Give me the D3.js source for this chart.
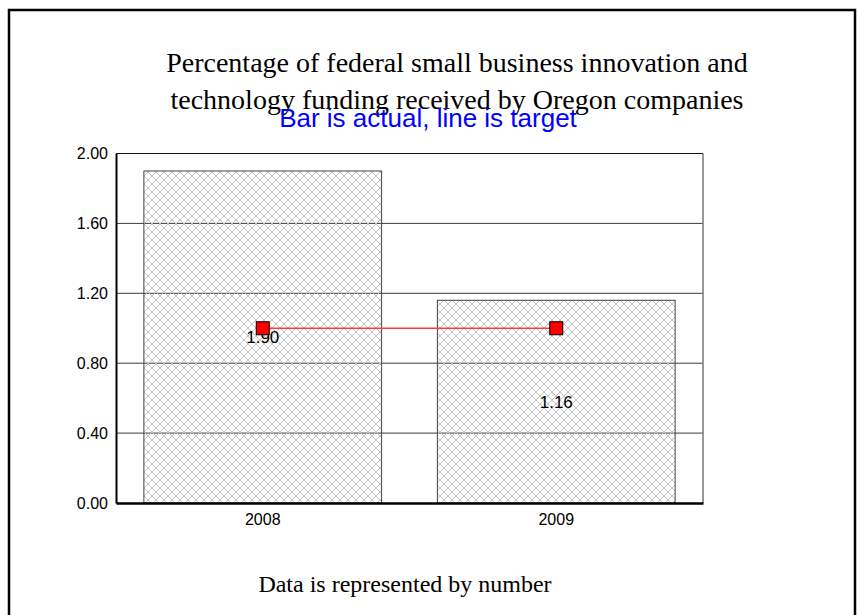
<!DOCTYPE html>
<html>
<head>
<meta charset="utf-8">
<script src="https://cdn.jsdelivr.net/npm/d3@7"></script>
<style>
  html, body { margin: 0; padding: 0; background: #fff; }
  svg { display: block; }
</style>
</head>
<body>
<svg id="chart" width="858" height="615"></svg>
<script>
// Oregon share of federal SBIR/STTR funding, actual vs. target
const years = ["2008", "2009"];
const actual = [1.90, 1.16];
const target = [1.00, 1.00];
const yTicks = [0, 0.4, 0.8, 1.2, 1.6, 2.0];
const titleLines = [
  "Percentage of federal small business innovation and",
  "technology funding received by Oregon companies"
];
const subtitle = "Bar is actual, line is target";
const footnote = "Data is represented by number";

const svg = d3.select("#chart");
const plot = { left: 116, right: 703, top: 153.5, bottom: 503 };

// Cross-hatch fill used for the bars
const defs = svg.append("defs");
const pat = defs.append("pattern")
  .attr("id", "hatch")
  .attr("patternUnits", "userSpaceOnUse")
  .attr("width", 8).attr("height", 8);
pat.append("path")
  .attr("d", "M0,0 L8,8 M8,0 L0,8 M-1,7 L1,9 M7,-1 L9,1 M-1,1 L1,-1 M7,9 L9,7")
  .attr("stroke", "#c2c2c2")
  .attr("stroke-width", 1)
  .attr("fill", "none");

// Page frame
svg.append("rect")
  .attr("x", 9).attr("y", 10)
  .attr("width", 846).attr("height", 640)
  .attr("fill", "none")
  .attr("stroke", "#000")
  .attr("stroke-width", 2.5);

const x = d3.scaleBand()
  .domain(years)
  .range([plot.left, plot.right])
  .paddingInner(0.19)
  .paddingOuter(0.095);

const y = d3.scaleLinear()
  .domain([0, 2])
  .range([plot.bottom, plot.top]);

// Horizontal gridlines
svg.append("g")
  .selectAll("line")
  .data(yTicks.filter(t => t > 0 && t < 2))
  .join("line")
  .attr("x1", plot.left).attr("x2", plot.right)
  .attr("y1", d => y(d)).attr("y2", d => y(d))
  .attr("stroke", "#3a3a3a")
  .attr("stroke-width", 1);

// Bars (actual)
svg.append("g")
  .selectAll("rect")
  .data(years)
  .join("rect")
  .attr("x", d => x(d))
  .attr("y", (d, i) => y(actual[i]))
  .attr("width", x.bandwidth())
  .attr("height", (d, i) => y(0) - y(actual[i]))
  .attr("fill", "url(#hatch)")
  .attr("stroke", "#444")
  .attr("stroke-width", 1);

// Plot frame: top and right edges
svg.append("line")
  .attr("x1", plot.left).attr("x2", plot.right)
  .attr("y1", plot.top).attr("y2", plot.top)
  .attr("stroke", "#111").attr("stroke-width", 1.2);
svg.append("line")
  .attr("x1", plot.right).attr("x2", plot.right)
  .attr("y1", plot.top).attr("y2", plot.bottom)
  .attr("stroke", "#777").attr("stroke-width", 1.5);

// Axes
const yAxis = svg.append("g")
  .attr("transform", `translate(${plot.left},0)`)
  .call(d3.axisLeft(y).tickValues(yTicks).tickFormat(d3.format(".2f")).tickSize(0).tickPadding(8));
yAxis.select(".domain").attr("stroke", "#000").attr("stroke-width", 2);
yAxis.selectAll("text")
  .attr("font-family", "Liberation Sans, Arial, sans-serif")
  .attr("font-size", 16)
  .attr("fill", "#000");

const xAxis = svg.append("g")
  .attr("transform", `translate(0,${plot.bottom})`)
  .call(d3.axisBottom(x).tickSize(0).tickPadding(11));
xAxis.select(".domain").attr("stroke", "#000").attr("stroke-width", 2.5);
xAxis.selectAll("text")
  .attr("font-family", "Liberation Sans, Arial, sans-serif")
  .attr("font-size", 16)
  .attr("fill", "#000");

// Bar value labels, centred in each bar
svg.append("g")
  .selectAll("text")
  .data(years)
  .join("text")
  .attr("x", d => x(d) + x.bandwidth() / 2)
  .attr("y", (d, i) => y(actual[i] / 2))
  .attr("dy", "0.35em")
  .attr("text-anchor", "middle")
  .attr("font-family", "Liberation Sans, Arial, sans-serif")
  .attr("font-size", 17)
  .attr("fill", "#000")
  .text((d, i) => d3.format(".2f")(actual[i]));

// Target line with square markers
const line = d3.line()
  .x((d, i) => x(years[i]) + x.bandwidth() / 2)
  .y(d => y(d));
svg.append("path")
  .datum(target)
  .attr("d", line)
  .attr("fill", "none")
  .attr("stroke", "#ff3b3b")
  .attr("stroke-width", 1.5);
const ms = 13;
svg.append("g")
  .selectAll("rect")
  .data(target)
  .join("rect")
  .attr("x", (d, i) => x(years[i]) + x.bandwidth() / 2 - ms / 2)
  .attr("y", d => y(d) - ms / 2)
  .attr("width", ms).attr("height", ms)
  .attr("fill", "#ff0000")
  .attr("stroke", "#000")
  .attr("stroke-width", 1);

// Titles
svg.append("g")
  .selectAll("text")
  .data(titleLines)
  .join("text")
  .attr("x", 457)
  .attr("y", (d, i) => 72 + i * 37)
  .attr("text-anchor", "middle")
  .attr("font-family", "Liberation Serif, Times New Roman, serif")
  .attr("font-size", 28)
  .attr("fill", "#000")
  .text(d => d);

svg.append("text")
  .attr("x", 428)
  .attr("y", 127)
  .attr("text-anchor", "middle")
  .attr("font-family", "Liberation Sans, Arial, sans-serif")
  .attr("font-size", 26)
  .attr("fill", "#0000ff")
  .text(subtitle);

svg.append("text")
  .attr("x", 405)
  .attr("y", 592)
  .attr("text-anchor", "middle")
  .attr("font-family", "Liberation Serif, Times New Roman, serif")
  .attr("font-size", 24)
  .attr("fill", "#000")
  .text(footnote);
</script>
</body>
</html>
